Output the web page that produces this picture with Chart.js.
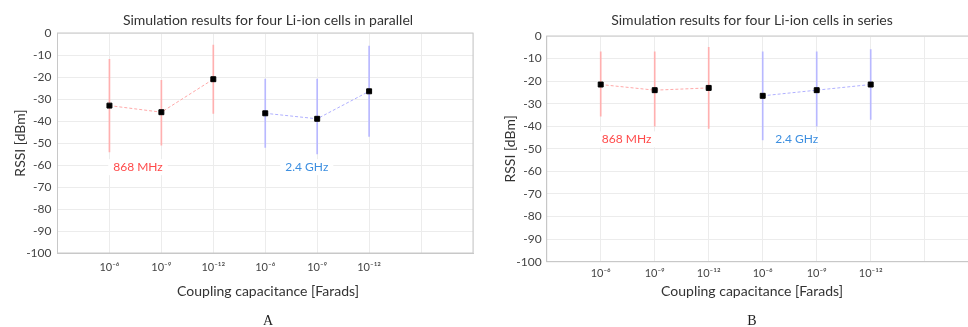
<!DOCTYPE html>
<html><head><meta charset="utf-8">
<script src="https://cdn.jsdelivr.net/npm/chart.js@4/dist/chart.umd.min.js"></script>
<style>
html,body{margin:0;padding:0;background:#fff;overflow:hidden;width:968px;height:327px;}
#wrap{position:relative;width:968px;height:327px;overflow:hidden;background:#fff;}
#c1{position:absolute;left:0;top:0;width:484px;height:327px;}
#c2{position:absolute;left:484px;top:0;width:520px;height:327px;}
</style></head><body>
<div id="wrap">
<canvas id="c1" width="484" height="327"></canvas>
<canvas id="c2" width="520" height="327"></canvas>
</div>
<script>
// ---- data ----
const tickLabels = ['10⁻⁶', '10⁻⁹', '10⁻¹²', '10⁻⁶', '10⁻⁹', '10⁻¹²'];
const x868 = [1, 2, 3];
const x24 = [4, 5, 6];

// parallel (A)
const par868 = [-33, -36, -21];
const par868Low = [-54, -51, -36.5];
const par868High = [-12, -21.5, -5.5];
const par24 = [-36.5, -39, -26.5];
const par24Low = [-52, -55, -47];
const par24High = [-21, -21, -6];

// series (B)
const ser868 = [-21.5, -24, -23];
const ser868Low = [-35.5, -40, -41];
const ser868High = [-7, -7, -5];
const ser24 = [-26.5, -24, -21.5];
const ser24Low = [-46, -40, -37];
const ser24High = [-7, -7, -6];

const titles = ['Simulation results for four Li-ion cells in parallel', 'Simulation results for four Li-ion cells in series'];
const xTitle = 'Coupling capacitance [Farads]';
const yTitle = 'RSSI [dBm]';
const panelLetters = ['A', 'B'];
const freqNames = ['868 MHz', '2.4 GHz'];

const FONT = 'Lato, "DejaVu Sans"';

// ---- plugins ----
const boxBorder = {
  id: 'boxBorder',
  afterDatasetsDraw(chart) {
    const {ctx, chartArea: a} = chart;
    ctx.save();
    ctx.strokeStyle = '#c8c8c8';
    ctx.lineWidth = 1;
    ctx.strokeRect(a.left, a.top, a.right - a.left, a.bottom - a.top);
    ctx.restore();
  }
};
const freqLabels = {
  id: 'freqLabels',
  beforeDatasetsDraw(chart, args, opts) {
    const {ctx, scales: {x, y}} = chart;
    ctx.save();
    ctx.font = '12px ' + FONT;
    ctx.textAlign = 'center';
    ctx.textBaseline = 'middle';
    for (const l of opts.items) {
      const px = x.getPixelForValue(l.x), py = y.getPixelForValue(l.y);
      const w = ctx.measureText(l.text).width;
      ctx.fillStyle = '#fff';
      ctx.fillRect(px - w / 2 - 5, py - 8, w + 10, 16);
      ctx.fillStyle = l.color;
      ctx.fillText(l.text, px, py);
    }
    ctx.restore();
  }
};
const panelText = {
  id: 'panelText',
  afterDraw(chart, args, opts) {
    const ctx = chart.ctx;
    ctx.save();
    ctx.textAlign = 'center';
    ctx.textBaseline = 'middle';
    for (const t of opts.items) {
      ctx.font = t.font;
      ctx.fillStyle = t.color;
      ctx.fillText(t.text, t.x, t.y);
    }
    ctx.restore();
  }
};

function pts(xs, ys) { return xs.map((v, i) => ({x: v, y: ys[i]})); }
function bars(xs, lo, hi) { return xs.map((v, i) => ({x: v, y: [lo[i], hi[i]]})); }

function makeChart(id, p) {
  const s = p.series;
  return new Chart(document.getElementById(id), {
    type: 'line',
    data: {
      datasets: [
        {type: 'bar', data: bars(x868, s.r868Low, s.r868High), backgroundColor: '#ffb0b0', barThickness: 1, grouped: false, order: 2},
        {type: 'bar', data: bars(x24, s.r24Low, s.r24High), backgroundColor: '#b8b8ff', barThickness: 1, grouped: false, order: 2},
        {type: 'line', data: pts(x868, s.r868), borderColor: '#ffa8a8', borderWidth: 1, borderDash: [3, 2],
          pointStyle: 'rect', pointRadius: 3.5, pointBackgroundColor: '#000', pointBorderColor: '#000', order: 0},
        {type: 'line', data: pts(x24, s.r24), borderColor: '#b0b0ff', borderWidth: 1, borderDash: [3, 2],
          pointStyle: 'rect', pointRadius: 3.5, pointBackgroundColor: '#000', pointBorderColor: '#000', order: 0}
      ]
    },
    options: {
      responsive: false,
      animation: false,
      layout: {padding: {left: 0, right: p.padRight, top: p.top, bottom: 0}},
      plugins: {
        legend: {display: false},
        tooltip: {enabled: false},
        freqLabels: {items: [
          {text: freqNames[0], x: p.lab868[0], y: p.lab868[1], color: '#ff4a4a'},
          {text: freqNames[1], x: p.lab24[0], y: p.lab24[1], color: '#3d8fe0'}
        ]},
        panelText: {items: [
          {text: p.title, x: p.cx, y: 20, font: '14px ' + FONT, color: '#333'},
          {text: xTitle, x: p.cx, y: p.xTitleY, font: '14px ' + FONT, color: '#333'},
          {text: p.letter, x: p.cx, y: p.letterY, font: '14px "Liberation Serif"', color: '#222'}
        ]}
      },
      scales: {
        x: {
          type: 'linear', min: 0, max: 8, offset: false,
          afterFit: (sc) => { sc.height = p.xHeight; },
          grid: {color: '#ececec', drawTicks: false, offset: false},
          border: {color: '#c8c8c8'},
          ticks: {stepSize: 1, autoSkip: false, maxRotation: 0, padding: p.xTickPad, color: '#444',
            font: {family: FONT, size: 11},
            callback: (v) => tickLabels[v - 1] ?? ''}
        },
        y: {
          min: -100, max: 0,
          afterFit: (sc) => { sc.width = p.yWidth; },
          grid: {color: '#ececec', drawTicks: false},
          border: {color: '#c8c8c8'},
          ticks: {stepSize: 10, padding: p.yTickPad, color: '#444', font: {family: FONT, size: 12}},
          title: {display: true, text: yTitle, color: '#333', font: {family: FONT, size: 14}, padding: {top: p.yTitlePad, bottom: 0}}
        }
      }
    },
    plugins: [boxBorder, freqLabels, panelText]
  });
}

makeChart('c1', {
  series: {r868: par868, r868Low: par868Low, r868High: par868High, r24: par24, r24Low: par24Low, r24High: par24High},
  title: titles[0], letter: panelLetters[0],
  top: 33, padRight: 11, yWidth: 57.5, xHeight: 74,
  xTickPad: 8, yTickPad: 6, yTitlePad: 11.6,
  cx: 268, xTitleY: 291, letterY: 321,
  lab868: [1.55, -61], lab24: [4.8, -61]
});
makeChart('c2', {
  series: {r868: ser868, r868Low: ser868Low, r868High: ser868High, r24: ser24, r24Low: ser24Low, r24High: ser24High},
  title: titles[1], letter: panelLetters[1],
  top: 36, padRight: 25.3, yWidth: 62.7, xHeight: 65.3,
  xTickPad: 5.5, yTickPad: 5, yTitlePad: 18.1,
  cx: 268, xTitleY: 291, letterY: 321,
  lab868: [1.48, -45.8], lab24: [4.63, -45.8]
});
</script>
</body></html>
